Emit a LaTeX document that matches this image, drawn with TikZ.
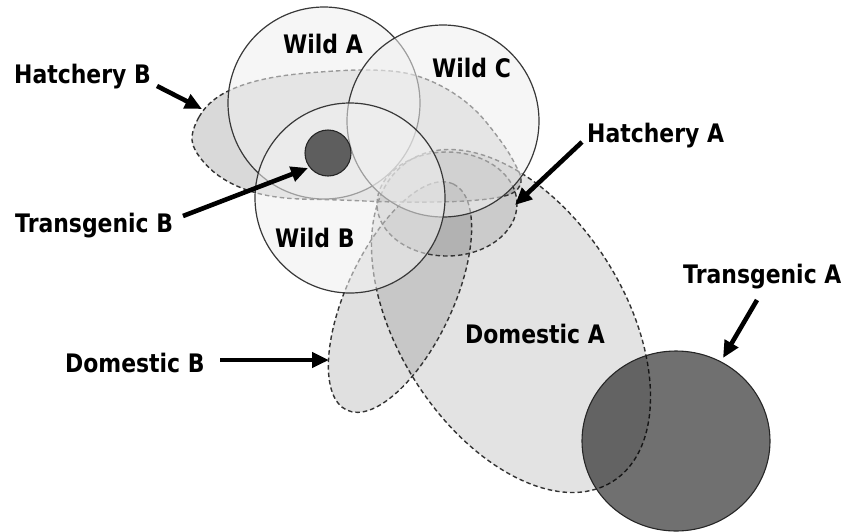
\documentclass[tikz,border=0pt]{standalone}
\usepackage{fontspec}
\usetikzlibrary{arrows.meta}
\newfontfamily\labfont{DejaVu Sans}[FakeStretch=0.86]

\tikzset{
  popdash/.style={draw=black!80, line width=1.4pt, dash pattern=on 4.5pt off 3pt, fill=black, fill opacity=0.11},
  wildring/.style={draw=black!78, line width=1.2pt, fill=black!6, fill opacity=0.55},
  tgdisc/.style={draw=black!85, line width=1.1pt, fill=black, fill opacity=0.56},
  pointer/.style={line width=4.6pt, -{Triangle[length=17pt,width=15pt]}},
  lab/.style={font=\labfont\bfseries\fontsize{25.5}{30}\selectfont, inner sep=0pt, anchor=base west}
}

\begin{document}
\begin{tikzpicture}[x=1pt, y=-1pt]
\useasboundingbox (0,0) rectangle (846,531);
\fill[white] (0,0) rectangle (846,531);

% ---- domestic and hatchery populations (dashed) ----
\path[popdash, rotate around={-57.6:(511,321)}] (511,321) ellipse [x radius=190pt, y radius=113pt];
\path[popdash, fill opacity=0.12, rotate around={64.8:(400,297)}] (400,297) ellipse [x radius=125pt, y radius=53pt];
\path[popdash, fill opacity=0.10] (447,204) ellipse [x radius=70pt, y radius=52pt];
\path[popdash, fill opacity=0.15] plot[smooth cycle, tension=0.6] coordinates {
  (192,140) (199,117) (215,99) (240,86) (275,77) (320,72) (370,70) (410,74)
  (445,88) (475,110) (500,140) (515,164) (521,182) (508,195) (465,201)
  (400,202) (340,200) (285,198) (250,191) (222,178) (202,160)};

% ---- wild populations ----
\node[wildring, circle, minimum size=192pt] (wildA) at (324,103) {};
\node[wildring, circle, minimum size=192pt] (wildC) at (443,121) {};
\node[wildring, circle, minimum size=190pt] (wildB) at (350,198) {};

% ---- transgenic populations ----
\node[tgdisc, circle, fill opacity=0.6, minimum size=46pt] (tgB) at (328,153) {};
\path[tgdisc] (676,441) ellipse [x radius=94pt, y radius=90pt];
\node[circle, minimum size=184pt] (tgA) at (676,441) {};

% ---- labels ----
\node[lab] (tWildA) at (283,53) {Wild A};
\node[lab] (tWildC) at (432,77) {Wild C};
\node[lab] (tWildB) at (275,247) {Wild B};
\node[lab] (tHatB) at (14,83) {Hatchery B};
\node[lab] (tTgB) at (15,232) {Transgenic B};
\node[lab] (tDomB) at (65,372) {Domestic B};
\node[lab] (tHatA) at (587,142) {Hatchery A};
\node[lab] (tDomA) at (465,343) {Domestic A};
\node[lab] (tTgA) at (683,283) {Transgenic A};

% ---- pointer arrows ----
\coordinate (hbTail) at (157,86);   \coordinate (hbTip) at (202,109);
\coordinate (tbTail) at (183,216);  \coordinate (tbTip) at (308,168);
\coordinate (dbTail) at (220,360);  \coordinate (dbTip) at (329,360);
\coordinate (haTail) at (582,142);  \coordinate (haTip) at (515,205);
\coordinate (taTail) at (757,300);  \coordinate (taTip) at (723,358);
\draw[pointer] (hbTail) -- (hbTip);
\draw[pointer] (tbTail) -- (tbTip);
\draw[pointer] (dbTail) -- (dbTip);
\draw[pointer] (haTail) -- (haTip);
\draw[pointer] (taTail) -- (taTip);
\end{tikzpicture}
\end{document}
